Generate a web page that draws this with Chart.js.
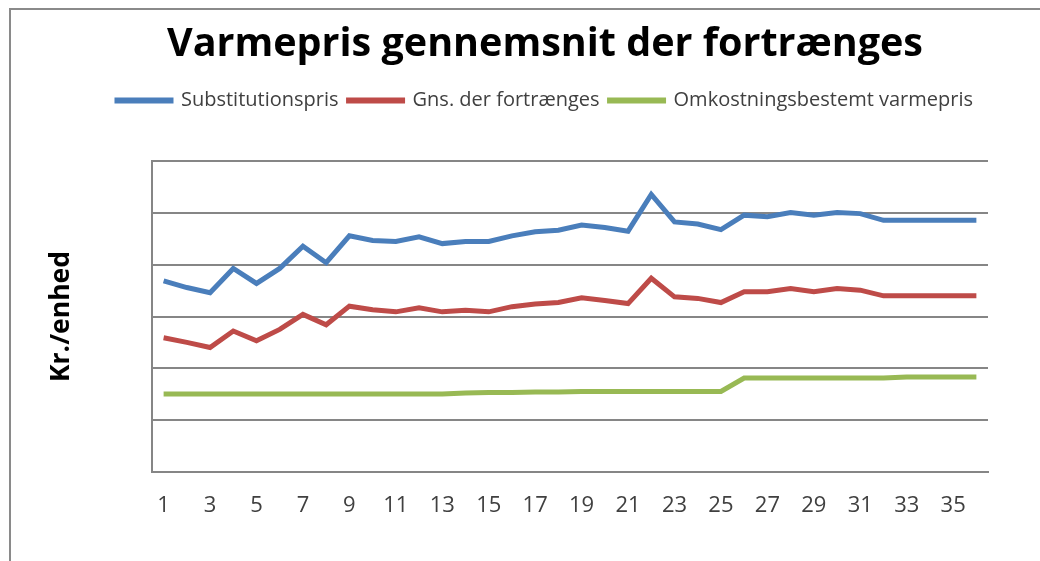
<!DOCTYPE html>
<html>
<head>
<meta charset="utf-8">
<script src="https://cdn.jsdelivr.net/npm/chart.js@4.4.1/dist/chart.umd.min.js"></script>
<style>
  html, body { margin: 0; padding: 0; background: #fff; }
  #frame { position: absolute; left: 9px; top: 8px; width: 1100px; height: 600px;
           border-left: 2px solid #8a8a8a; border-top: 2px solid #8a8a8a; }
  #wrap { position: absolute; left: 0; top: 0; width: 1040px; height: 561px; }
</style>
</head>
<body>
<div id="frame"></div>
<div id="wrap"><canvas id="chart"></canvas></div>
<script>
// x labels (periods)
var periods = ['1', '2', '3', '4', '5', '6', '7', '8', '9', '10', '11', '12',
  '13', '14', '15', '16', '17', '18', '19', '20', '21', '22', '23', '24',
  '25', '26', '27', '28', '29', '30', '31', '32', '33', '34', '35', '36'];

var substitutionspris = [3.69, 3.56, 3.46, 3.93, 3.64, 3.93, 4.36, 4.04, 4.56, 4.47, 4.45, 4.54,
  4.41, 4.45, 4.45, 4.56, 4.64, 4.67, 4.77, 4.72, 4.65, 5.36, 4.83, 4.79,
  4.68, 4.96, 4.93, 5.01, 4.96, 5.01, 4.99, 4.86, 4.86, 4.86, 4.86, 4.86];

var gnsFortraenges = [2.59, 2.50, 2.40, 2.72, 2.53, 2.75, 3.04, 2.84, 3.20, 3.13, 3.09, 3.17,
  3.09, 3.12, 3.09, 3.19, 3.24, 3.27, 3.36, 3.31, 3.25, 3.74, 3.38, 3.35,
  3.27, 3.48, 3.48, 3.54, 3.48, 3.54, 3.51, 3.40, 3.40, 3.40, 3.40, 3.40];

var omkostningspris = [1.50, 1.50, 1.50, 1.50, 1.50, 1.50, 1.50, 1.50, 1.50, 1.50, 1.50, 1.50,
  1.50, 1.52, 1.53, 1.53, 1.54, 1.54, 1.55, 1.55, 1.55, 1.55, 1.55, 1.55,
  1.55, 1.81, 1.81, 1.81, 1.81, 1.81, 1.81, 1.81, 1.83, 1.83, 1.83, 1.83];

var gridGrey = '#868686';
var fontFam = '"Open Sans", Lato, sans-serif';

function series(label, data, color) {
  return {
    label: label,
    data: data,
    borderColor: color,
    backgroundColor: color,
    borderWidth: 5,
    pointRadius: 0,
    tension: 0,
    fill: false
  };
}

// leave some room between legend and plot
var legendSpacer = {
  id: 'legendSpacer',
  beforeInit: function (chart) {
    var fit = chart.legend.fit;
    chart.legend.fit = function () {
      fit.bind(chart.legend)();
      this.height += 41;
    };
  }
};

var chart = new Chart('chart', {
  type: 'line',
  data: {
    labels: periods,
    datasets: [
      series('Substitutionspris', substitutionspris, '#4a7ebb'),
      series('Gns. der fortrænges', gnsFortraenges, '#be4b48'),
      series('Omkostningsbestemt varmepris', omkostningspris, '#98b954')
    ]
  },
  plugins: [legendSpacer],
  options: {
    responsive: true,
    maintainAspectRatio: false,
    animation: false,
    layout: { padding: { left: 102, right: 52, top: 0, bottom: 21 } },
    plugins: {
      title: {
        display: true,
        text: 'Varmepris gennemsnit der fortrænges',
        color: '#000',
        font: { family: fontFam, size: 39.5, weight: 'bold' },
        padding: { top: 21, bottom: 12 }
      },
      legend: {
        display: true,
        labels: {
          color: '#404040',
          font: { family: fontFam, size: 20 },
          boxWidth: 54,
          boxHeight: 1,
          padding: 10
        }
      },
      tooltip: { enabled: false }
    },
    scales: {
      x: {
        offset: true,
        grid: { display: false, drawTicks: false },
        border: { color: gridGrey, width: 2 },
        ticks: {
          color: '#404040',
          font: { family: fontFam, size: 22 },
          padding: 21,
          autoSkip: false,
          maxRotation: 0,
          callback: function (val, idx) {
            return idx % 2 === 0 ? periods[idx] : '';
          }
        }
      },
      y: {
        min: 0,
        max: 6,
        afterFit: function (scale) {
          scale.width = 50;
        },
        grid: { color: gridGrey, lineWidth: 2, drawTicks: false },
        border: { color: gridGrey, width: 2 },
        ticks: { display: false, stepSize: 1 },
        title: {
          display: true,
          text: 'Kr./enhed',
          color: '#000',
          font: { family: fontFam, size: 26.5, weight: 'bold' },
          padding: { top: -56, bottom: 0 }
        }
      }
    }
  }
});
</script>
</body>
</html>
